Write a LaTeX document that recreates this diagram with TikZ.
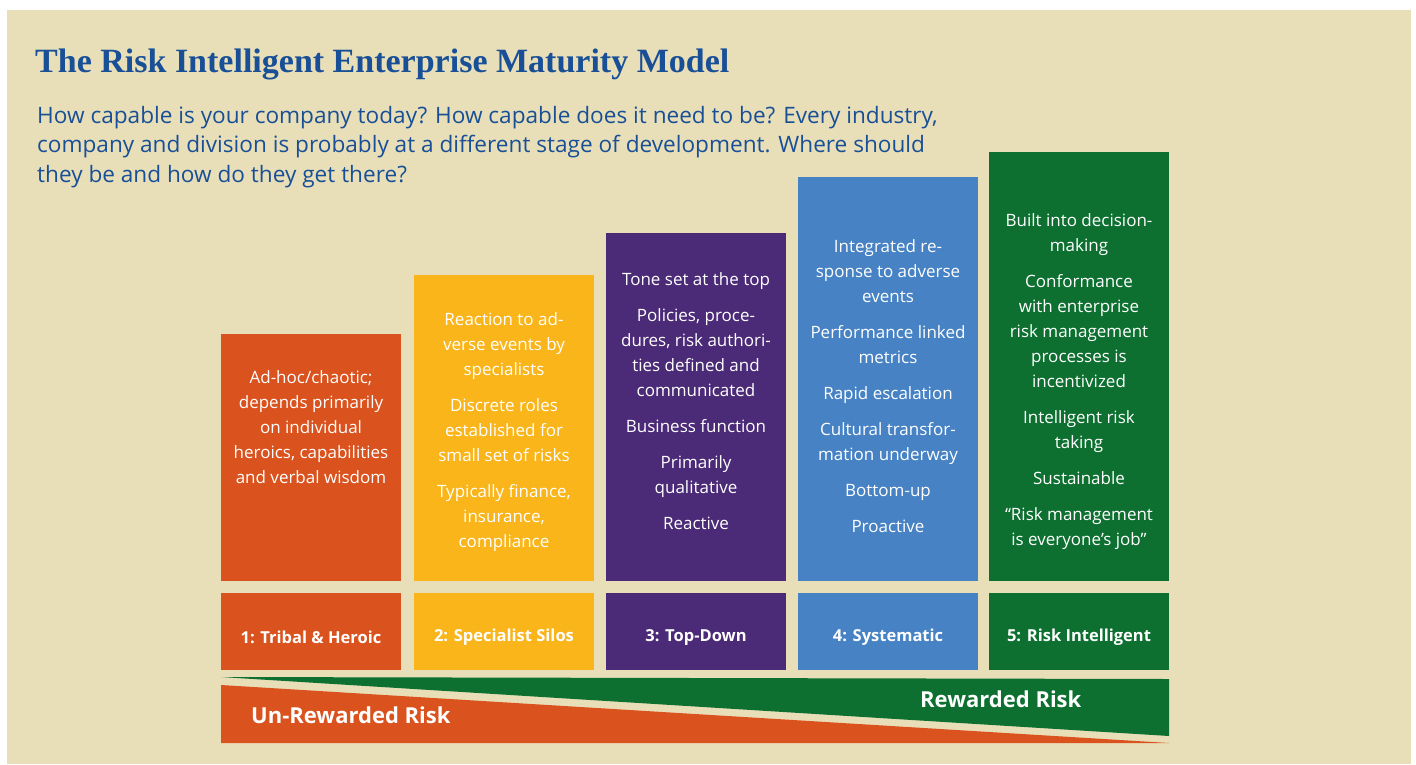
\documentclass[tikz,border=0pt]{standalone}
\usepackage{fontspec}
\setmainfont{Open Sans}
\newfontfamily\titlefont{Liberation Serif}
\definecolor{bg}{RGB}{232,223,184}
\definecolor{corange}{RGB}{218,82,30}
\definecolor{cyellow}{RGB}{249,181,26}
\definecolor{cpurple}{RGB}{75,42,119}
\definecolor{cblue}{RGB}{70,130,196}
\definecolor{cgreen}{RGB}{13,112,48}
\definecolor{ctitle}{RGB}{24,79,150}
\tikzset{
  stagebox/.style={draw=none, inner sep=0pt, outer sep=0pt, minimum width=180pt, anchor=north west},
  stagetext/.style={text=white, align=center, font=\fontsize{17}{25}\selectfont, inner sep=0pt},
  labeltext/.style={text=white, font=\fontsize{16.5}{20}\selectfont\bfseries, inner sep=0pt},
  ribbontext/.style={text=white, font=\fontsize{22}{26}\selectfont\bfseries, inner sep=0pt},
  subtext/.style={text=ctitle, font=\fontsize{22.6}{26}\selectfont, inner sep=0pt, anchor=base west},
}
\begin{document}
\begin{tikzpicture}[x=1pt,y=-1pt]
\useasboundingbox (0,0) rectangle (1416,764);
\fill[bg] (7,10) rectangle (1411,764);
% title
\node[text=ctitle, font=\titlefont\fontsize{34}{38}\selectfont\bfseries, inner sep=0pt, anchor=base west] (title) at (35,72) {The Risk Intelligent Enterprise Maturity Model};
\node[subtext] (s1) at (37,123) {How capable is your company today? How capable does it need to be? Every industry,};
\node[subtext] (s2) at (37,152.5) {company and division is probably at a different stage of development. Where should};
\node[subtext] (s3) at (37,182) {they be and how do they get there?};
% stage boxes
\node[stagebox, fill=corange, minimum height=247pt] (b1) at (221,334) {};
\node[stagebox, fill=cyellow, minimum height=306pt] (b2) at (414,275) {};
\node[stagebox, fill=cpurple, minimum height=348pt] (b3) at (606,233) {};
\node[stagebox, fill=cblue, minimum height=404pt] (b4) at (798,177) {};
\node[stagebox, fill=cgreen, minimum height=429pt] (b5) at (989,152) {};
% texts
\node[stagetext] (t1) at (311,427) {Ad-hoc/chaotic;\\depends primarily\\on individual\\heroics, capabilities\\and verbal wisdom};
\node[stagetext] (t2) at (504,432) {Reaction to ad-\\verse events by\\specialists\\[11pt]Discrete roles\\established for\\small set of risks\\[11pt]Typically finance,\\insurance,\\compliance};
\node[stagetext] (t3) at (696,401) {Tone set at the top\\[11pt]Policies, proce-\\dures, risk authori-\\ties defined and\\communicated\\[11pt]Business function\\[11pt]Primarily\\qualitative\\[11pt]Reactive};
\node[stagetext] (t4) at (888,386) {Integrated re-\\sponse to adverse\\events\\[11pt]Performance linked\\metrics\\[11pt]Rapid escalation\\[11pt]Cultural transfor-\\mation underway\\[11pt]Bottom-up\\[11pt]Proactive};
\node[stagetext] (t5) at (1079,382) {Built into decision-\\making\\[11pt]Conformance\\with enterprise\\risk management\\processes is\\incentivized\\[11pt]Intelligent risk\\taking\\[11pt]Sustainable\\[11pt]“Risk management\\is everyone’s job”};
% label boxes
\node[stagebox, fill=corange, minimum height=77pt] (l1) at (221,593) {};
\node[stagebox, fill=cyellow, minimum height=77pt] (l2) at (414,593) {};
\node[stagebox, fill=cpurple, minimum height=77pt] (l3) at (606,593) {};
\node[stagebox, fill=cblue, minimum height=77pt] (l4) at (798,593) {};
\node[stagebox, fill=cgreen, minimum height=77pt] (l5) at (989,593) {};
\node[labeltext] (lt1) at (311,637) {1: Tribal \& Heroic};
\node[labeltext] (lt2) at (504,637) {2: Specialist Silos};
\node[labeltext] (lt3) at (696,637) {3: Top-Down};
\node[labeltext] (lt4) at (888,637) {4: Systematic};
\node[labeltext] (lt5) at (1079,637) {5: Risk Intelligent};
% ribbons
\fill[cgreen] (221,677) -- (1169,679) -- (1169,736) -- cycle;
\fill[corange] (221,685) -- (1169,743) -- (221,743) -- cycle;
\node[ribbontext, anchor=west] (ur) at (251,715) {Un-Rewarded Risk};
\node[ribbontext, anchor=west] (rr) at (920,699) {Rewarded Risk};
\end{tikzpicture}
\end{document}
